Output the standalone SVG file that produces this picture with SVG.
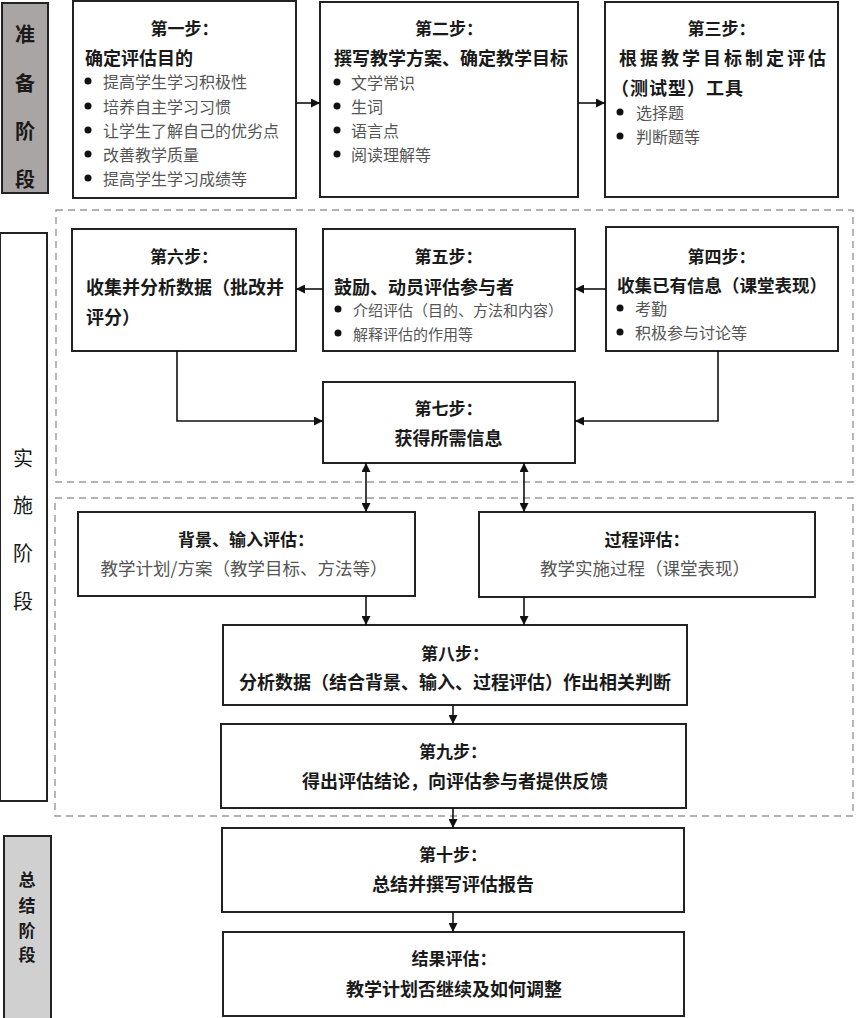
<svg xmlns="http://www.w3.org/2000/svg" width="856" height="1018" viewBox="0 0 856 1018">
<style>
text{font-family:"Noto Sans CJK SC","Noto Sans",sans-serif;dominant-baseline:central}
.box{fill:#fff;stroke:#222;stroke-width:2}
.h{font-size:17px;font-weight:bold;fill:#1a1a1a;text-anchor:middle}
.t{font-size:18px;font-weight:bold;fill:#1a1a1a}
.tc{font-size:18px;font-weight:bold;fill:#1a1a1a;text-anchor:middle}
.b{font-size:16px;fill:#555}
.bs{font-size:15px;fill:#555}
.g{font-size:17.5px;fill:#555;text-anchor:middle}
.dot{fill:#111}
.stage{font-size:20px;fill:#1a1a1a;text-anchor:middle}
.con{fill:none;stroke:#111;stroke-width:1.6}
.dash{fill:none;stroke:#999;stroke-width:1.4;stroke-dasharray:7 5}
</style>
<defs>
<marker id="arr" viewBox="0 0 10 10" refX="10" refY="5" markerWidth="9" markerHeight="9" markerUnits="userSpaceOnUse" orient="auto-start-reverse">
<path d="M0,0 L10,5 L0,10 z" fill="#111"/>
</marker>
</defs>

<g id="regions">
<rect class="dash" x="56" y="210" width="797" height="272"/>
<rect class="dash" x="55" y="498" width="798" height="318"/>
</g>

<g id="stage-prep">
<rect x="2" y="3" width="46" height="190" fill="#a9a5a5" stroke="#222" stroke-width="2"/>
<text class="stage" font-weight="bold"><tspan x="25" y="33">准</tspan><tspan x="25" y="82">备</tspan><tspan x="25" y="130">阶</tspan><tspan x="25" y="178">段</tspan></text>
</g>
<g id="stage-impl">
<rect x="0" y="233" width="47" height="568" fill="#fff" stroke="#222" stroke-width="2"/>
<text class="stage"><tspan x="23" y="457">实</tspan><tspan x="23" y="504">施</tspan><tspan x="23" y="552">阶</tspan><tspan x="23" y="600">段</tspan></text>
</g>
<g id="stage-sum">
<rect x="4" y="836" width="47" height="184" fill="#d0d0d0" stroke="#222" stroke-width="2"/>
<text class="stage" font-weight="bold" style="font-size:17px"><tspan x="27" y="878">总</tspan><tspan x="27" y="904">结</tspan><tspan x="27" y="929">阶</tspan><tspan x="27" y="953">段</tspan></text>
</g>

<g id="step1">
<rect class="box" x="73" y="1" width="223" height="197"/>
<text class="h" x="184.5" y="27">第一步：</text>
<text class="t" x="85" y="57">确定评估目的</text>
<circle class="dot" cx="88" cy="81" r="3.5"/><text class="b" x="103" y="81">提高学生学习积极性</text>
<circle class="dot" cx="88" cy="106" r="3.5"/><text class="b" x="103" y="106">培养自主学习习惯</text>
<circle class="dot" cx="88" cy="130" r="3.5"/><text class="b" x="103" y="130">让学生了解自己的优劣点</text>
<circle class="dot" cx="88" cy="154" r="3.5"/><text class="b" x="103" y="154">改善教学质量</text>
<circle class="dot" cx="88" cy="178" r="3.5"/><text class="b" x="103" y="178">提高学生学习成绩等</text>
</g>

<g id="step2">
<rect class="box" x="320" y="2" width="258" height="195"/>
<text class="h" x="449" y="27">第二步：</text>
<text class="t" x="334" y="57">撰写教学方案、确定教学目标</text>
<circle class="dot" cx="337" cy="82" r="3.5"/><text class="b" x="351" y="82">文学常识</text>
<circle class="dot" cx="337" cy="106" r="3.5"/><text class="b" x="351" y="106">生词</text>
<circle class="dot" cx="337" cy="130" r="3.5"/><text class="b" x="351" y="130">语言点</text>
<circle class="dot" cx="337" cy="154" r="3.5"/><text class="b" x="351" y="154">阅读理解等</text>
</g>

<g id="step3">
<rect class="box" x="605" y="2" width="233" height="195"/>
<text class="h" x="721.5" y="27">第三步：</text>
<text class="t" x="619" y="57" letter-spacing="3">根据教学目标制定评估</text>
<text class="t" x="611" y="87" letter-spacing="1">（测试型）工具</text>
<circle class="dot" cx="620" cy="112" r="3.5"/><text class="b" x="636" y="112">选择题</text>
<circle class="dot" cx="620" cy="136" r="3.5"/><text class="b" x="636" y="136">判断题等</text>
</g>

<g id="step4">
<rect class="box" x="606" y="227" width="232" height="124"/>
<text class="h" x="721.5" y="255">第四步：</text>
<text class="t" x="617" y="284" style="font-size:17.5px">收集已有信息（课堂表现）</text>
<circle class="dot" cx="620" cy="308" r="3.5"/><text class="b" x="635" y="308">考勤</text>
<circle class="dot" cx="620" cy="332" r="3.5"/><text class="b" x="635" y="332">积极参与讨论等</text>
</g>

<g id="step5">
<rect class="box" x="323" y="229" width="252" height="122"/>
<text class="h" x="448.5" y="255">第五步：</text>
<text class="t" x="334" y="286">鼓励、动员评估参与者</text>
<circle class="dot" cx="338" cy="309" r="3.5"/><text class="bs" x="353" y="309">介绍评估（目的、方法和内容）</text>
<circle class="dot" cx="338" cy="333" r="3.5"/><text class="bs" x="353" y="333">解释评估的作用等</text>
</g>

<g id="step6">
<rect class="box" x="72" y="229" width="224" height="122"/>
<text class="h" x="184" y="255">第六步：</text>
<text class="t" x="86" y="286">收集并分析数据（批改并</text>
<text class="t" x="86" y="316">评分）</text>
</g>

<g id="step7">
<rect class="box" x="323" y="382" width="252" height="81"/>
<text class="h" x="448.5" y="407">第七步：</text>
<text class="tc" x="448.5" y="437">获得所需信息</text>
</g>

<g id="context-input">
<rect class="box" x="78" y="512" width="337" height="84"/>
<text class="h" x="246" y="538">背景、输入评估：</text>
<text class="g" x="244" y="567">教学计划/方案（教学目标、方法等）</text>
</g>

<g id="process">
<rect class="box" x="479" y="512" width="336" height="85"/>
<text class="h" x="647" y="538">过程评估：</text>
<text class="g" x="645" y="567">教学实施过程（课堂表现）</text>
</g>

<g id="step8">
<rect class="box" x="223" y="625" width="464" height="80"/>
<text class="h" x="455" y="652">第八步：</text>
<text class="tc" x="455" y="681">分析数据（结合背景、输入、过程评估）作出相关判断</text>
</g>

<g id="step9">
<rect class="box" x="221" y="724" width="465" height="84"/>
<text class="h" x="453" y="750">第九步：</text>
<text class="tc" x="455" y="780">得出评估结论，向评估参与者提供反馈</text>
</g>

<g id="step10">
<rect class="box" x="222" y="828" width="462" height="84"/>
<text class="h" x="453" y="853">第十步：</text>
<text class="tc" x="453" y="883">总结并撰写评估报告</text>
</g>

<g id="result">
<rect class="box" x="223" y="932" width="461" height="84"/>
<text class="h" x="454" y="957">结果评估：</text>
<text class="tc" x="454" y="988">教学计划否继续及如何调整</text>
</g>

<g id="connectors">
<line class="con" x1="296" y1="103" x2="320" y2="103" marker-end="url(#arr)"/>
<line class="con" x1="578" y1="103" x2="605" y2="103" marker-end="url(#arr)"/>
<line class="con" x1="606" y1="289" x2="575" y2="289" marker-end="url(#arr)"/>
<line class="con" x1="323" y1="289" x2="296" y2="289" marker-end="url(#arr)"/>
<polyline class="con" points="177,351 177,421 323,421" marker-end="url(#arr)"/>
<polyline class="con" points="718,351 718,421 575,421" marker-end="url(#arr)"/>
<line class="con" x1="366" y1="463" x2="366" y2="512" marker-start="url(#arr)" marker-end="url(#arr)"/>
<line class="con" x1="524" y1="463" x2="524" y2="512" marker-start="url(#arr)" marker-end="url(#arr)"/>
<line class="con" x1="366" y1="596" x2="366" y2="625" marker-end="url(#arr)"/>
<line class="con" x1="524" y1="597" x2="524" y2="625" marker-end="url(#arr)"/>
<line class="con" x1="453" y1="705" x2="453" y2="724" marker-end="url(#arr)"/>
<line class="con" x1="453" y1="808" x2="453" y2="828" marker-end="url(#arr)"/>
<line class="con" x1="453" y1="912" x2="453" y2="932" marker-end="url(#arr)"/>
</g>
</svg>
